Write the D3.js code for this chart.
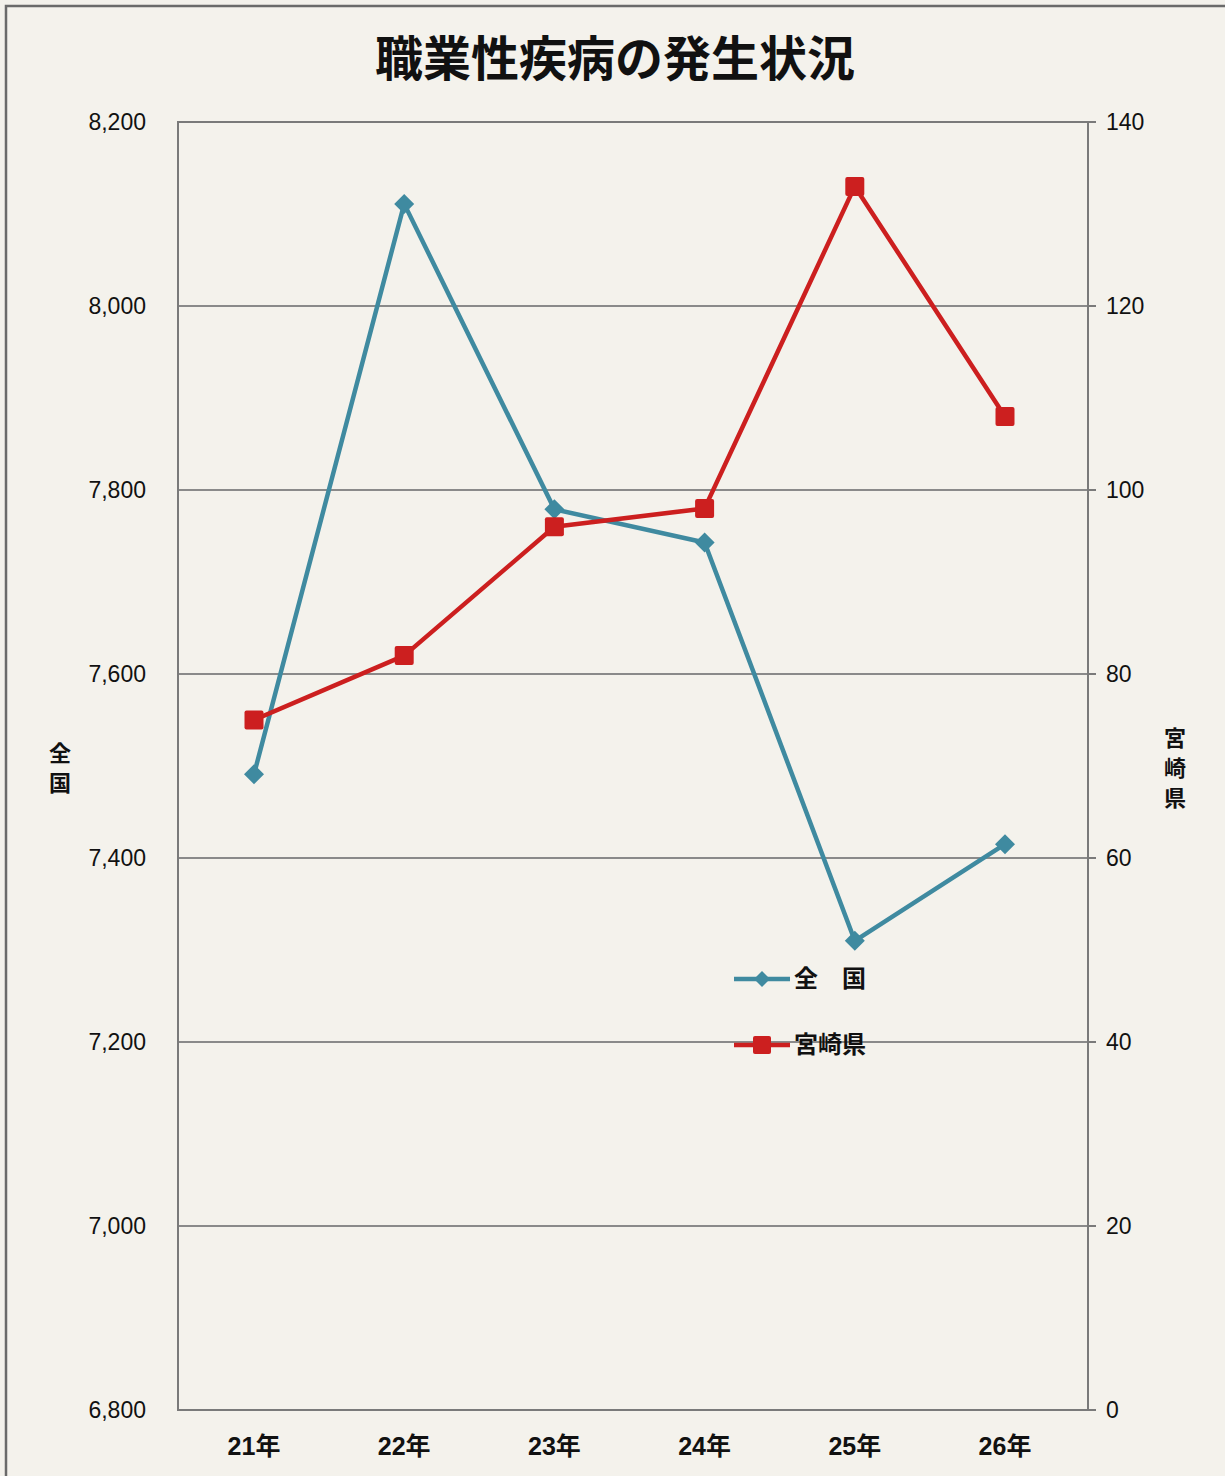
<!DOCTYPE html>
<html>
<head>
<meta charset="utf-8">
<script src="https://cdn.jsdelivr.net/npm/d3@7/dist/d3.min.js"></script>
<style>
  html, body { margin: 0; padding: 0; background: #f3f1eb; }
  svg { display: block; }
  text { font-family: "Noto Sans CJK JP", "Noto Sans", sans-serif; fill: #111; }
  .num { font-family: "Liberation Sans", "Noto Sans CJK JP", sans-serif; }
</style>
</head>
<body>
<div id="chart"></div>
<script>
// data
var years = ['21年', '22年', '23年', '24年', '25年', '26年'];
var zenkoku = [7491, 8111, 7779, 7743, 7310, 7415];
var miyazaki = [75, 82, 96, 98, 133, 108];
var leftTicks = [6800, 7000, 7200, 7400, 7600, 7800, 8000, 8200];
var rightTicks = [0, 20, 40, 60, 80, 100, 120, 140];

var W = 1225, H = 1476;
var m = { left: 178, right: 1088, top: 122, bottom: 1410 };

var svg = d3.select('#chart').append('svg')
  .attr('width', W).attr('height', H);

// outer frame
svg.append('rect')
  .attr('x', 6).attr('y', 6).attr('width', W + 10).attr('height', H + 10)
  .attr('fill', '#f4f2ec').attr('stroke', '#6a6a6a').attr('stroke-width', 2.5);

var x = d3.scalePoint().domain(years).range([254, 1005]);
var yL = d3.scaleLinear().domain([6800, 8200]).range([m.bottom, m.top]);
var yR = d3.scaleLinear().domain([0, 140]).range([m.bottom, m.top]);

// gridlines
svg.append('g').selectAll('line').data(leftTicks).join('line')
  .attr('x1', m.left).attr('x2', m.right)
  .attr('y1', d => yL(d)).attr('y2', d => yL(d))
  .attr('stroke', '#8a8a8a').attr('stroke-width', 2);

// plot border
svg.append('rect')
  .attr('x', m.left).attr('y', m.top)
  .attr('width', m.right - m.left).attr('height', m.bottom - m.top)
  .attr('fill', 'none').attr('stroke', '#7a7a7a').attr('stroke-width', 2);

// left axis labels
svg.append('g').selectAll('text').data(leftTicks).join('text')
  .attr('class', 'num')
  .attr('x', 146).attr('y', d => yL(d)).attr('dy', '0.35em')
  .attr('text-anchor', 'end').style('font-size', '23px')
  .text(d => d3.format(',')(d));

// right axis ticks + labels
svg.append('g').selectAll('line').data(rightTicks).join('line')
  .attr('x1', m.right).attr('x2', m.right + 8)
  .attr('y1', d => yR(d)).attr('y2', d => yR(d))
  .attr('stroke', '#7a7a7a').attr('stroke-width', 2);
svg.append('g').selectAll('text').data(rightTicks).join('text')
  .attr('class', 'num')
  .attr('x', 1106).attr('y', d => yR(d)).attr('dy', '0.35em')
  .attr('text-anchor', 'start').style('font-size', '23px')
  .text(d => d);

// category labels
svg.append('g').selectAll('text').data(years).join('text')
  .attr('class', 'num')
  .attr('x', d => x(d)).attr('y', 1446).attr('dy', '0.35em')
  .attr('text-anchor', 'middle').style('font-size', '25px').style('font-weight', 'bold')
  .text(d => d);

// title
svg.append('text')
  .attr('x', 615).attr('y', 59).attr('dy', '0.35em')
  .attr('text-anchor', 'middle').style('font-size', '48px').style('font-weight', 'bold')
  .text('職業性疾病の発生状況');

// vertical axis titles
function vtitle(chars, cx, cy) {
  svg.append('g').selectAll('text').data(chars).join('text')
    .attr('x', cx).attr('y', (d, i) => cy + i * 30).attr('dy', '0.35em')
    .attr('text-anchor', 'middle').style('font-size', '22px').style('font-weight', 'bold')
    .text(d => d);
}
vtitle(['全', '国'], 60, 753);
vtitle(['宮', '崎', '県'], 1175, 738);

var blue = '#3f8aa0', red = '#cc1f1f';

// 全国 line
svg.append('path')
  .datum(zenkoku)
  .attr('fill', 'none').attr('stroke', blue).attr('stroke-width', 4.5)
  .attr('stroke-linejoin', 'round')
  .attr('d', d3.line().x((d, i) => x(years[i])).y(d => yL(d)));
svg.append('g').selectAll('path').data(zenkoku).join('path')
  .attr('transform', (d, i) => 'translate(' + x(years[i]) + ',' + yL(d) + ')')
  .attr('d', 'M0,-10L10,0L0,10L-10,0Z').attr('fill', blue);

// 宮崎県 line
svg.append('path')
  .datum(miyazaki)
  .attr('fill', 'none').attr('stroke', red).attr('stroke-width', 4.5)
  .attr('stroke-linejoin', 'round')
  .attr('d', d3.line().x((d, i) => x(years[i])).y(d => yR(d)));
svg.append('g').selectAll('rect').data(miyazaki).join('rect')
  .attr('x', (d, i) => x(years[i]) - 9.5).attr('y', d => yR(d) - 9.5)
  .attr('width', 19).attr('height', 19).attr('rx', 2).attr('fill', red);

// legend
var lg = svg.append('g');
var legend = [
  { label: '全　国', color: blue, shape: 'diamond', y: 979 },
  { label: '宮崎県', color: red, shape: 'square', y: 1045 }
];
legend.forEach(function(l) {
  lg.append('line').attr('x1', 734).attr('x2', 790).attr('y1', l.y).attr('y2', l.y)
    .attr('stroke', l.color).attr('stroke-width', 4.5);
  if (l.shape === 'diamond') {
    lg.append('path').attr('transform', 'translate(762,' + l.y + ')')
      .attr('d', 'M0,-8L8,0L0,8L-8,0Z').attr('fill', l.color);
  } else {
    lg.append('rect').attr('x', 753).attr('y', l.y - 9).attr('width', 18).attr('height', 18)
      .attr('rx', 2).attr('fill', l.color);
  }
  lg.append('text').attr('x', 794).attr('y', l.y).attr('dy', '0.35em')
    .style('font-size', '24px').style('font-weight', 'bold').text(l.label);
});
</script>
</body>
</html>
